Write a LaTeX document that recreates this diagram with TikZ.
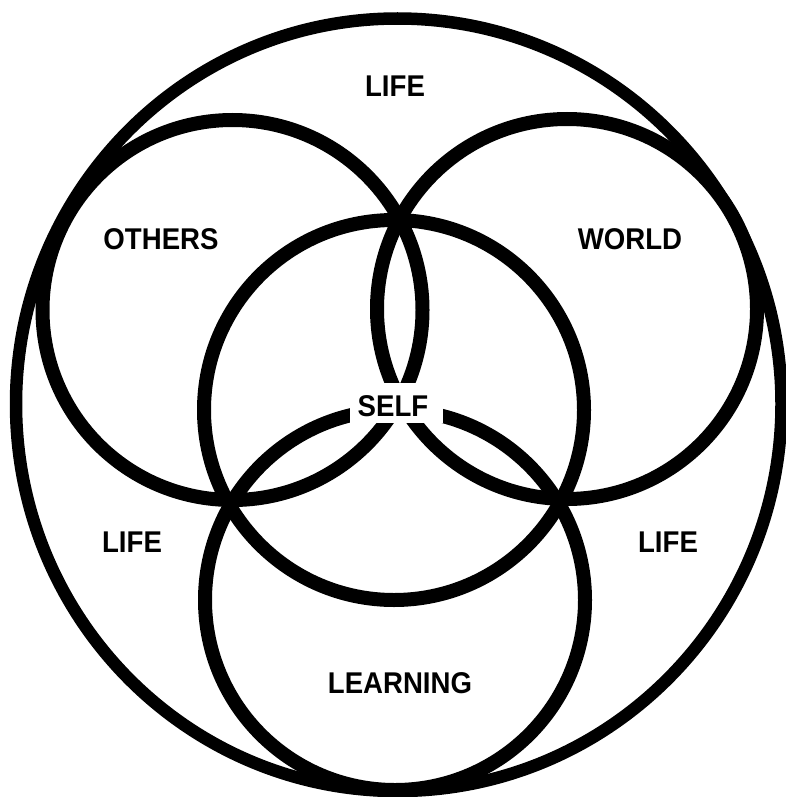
\documentclass[tikz,border=0pt]{standalone}
\usepackage{fontspec}
\newfontfamily\lab[FakeStretch=0.92]{Liberation Sans}
\begin{document}
\begin{tikzpicture}[x=1pt,y=-1pt,
  ring/.style={line width=14pt},
  outerring/.style={line width=12.5pt},
  lbl/.style={font=\lab\bfseries\fontsize{30}{30}\selectfont, inner sep=0pt}]
\useasboundingbox (0,0) rectangle (786,797);
% outer LIFE ring
\draw[outerring] (397.5,18.5)
  arc[start angle=90, end angle=0, x radius=384pt, y radius=385.5pt]
  arc[start angle=0, end angle=-90, x radius=384pt, y radius=387pt]
  arc[start angle=-90, end angle=-180, x radius=381.5pt, y radius=387pt]
  arc[start angle=180, end angle=90, x radius=381.5pt, y radius=385.5pt]
  -- cycle;
% inner circles
\draw[ring] (232.5,310) circle[radius=190pt];
\draw[ring] (567,309) circle[radius=190pt];
\draw[ring] (394,410) circle[radius=190pt];
\draw[ring] (395,600) circle[radius=190pt];
% labels
\node[lbl] (lifetop) at (395,86) {LIFE};
\node[lbl] (others) at (161,239) {OTHERS};
\node[lbl] (world) at (630,239) {WORLD};
\node[lbl] (lifeleft) at (132,542) {LIFE};
\node[lbl] (liferight) at (668,542) {LIFE};
\node[lbl] (learning) at (400,683) {LEARNING};
\node[fill=white, minimum width=93pt, minimum height=40pt, inner sep=0pt] (selfbox) at (396,403) {};
\node[lbl] (self) at (393,406.5) {SELF};
\end{tikzpicture}
\end{document}
